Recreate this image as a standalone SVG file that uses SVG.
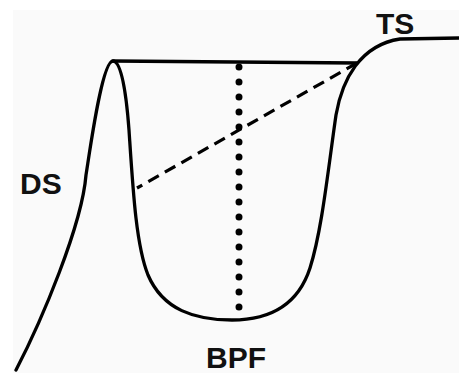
<svg xmlns="http://www.w3.org/2000/svg" width="459" height="373" viewBox="0 0 459 373">
<style>
.curve{fill:none;stroke:#000;stroke-width:3.3;stroke-linecap:round;stroke-linejoin:round}
.lbl{font-family:"Liberation Sans",Arial,sans-serif;font-weight:bold;font-size:30px;fill:#111}
</style>
<rect x="0" y="0" width="459" height="373" fill="#ffffff"/>
<rect x="13" y="10" width="446" height="363" fill="#fafafa"/>
<g id="profile">
<path class="curve" d="M16,370 C42,320 82,225 86,175 C90,150 102,61 113,61 C121,61 126,90 129,130 C133,190 136,245 148,275 C163,310 195,320 232,320 C270,320 298,305 310,268 C322,230 328,170 336,115 C342,80 360,45 400,39 L459,38"/>
</g>
<g id="connectors">
<line class="curve" x1="113" y1="61" x2="357" y2="63"/>
<line x1="357" y1="63" x2="137" y2="188" stroke="#000" stroke-width="3.2" stroke-dasharray="12 7"/>
<line x1="239" y1="67" x2="239" y2="308" stroke="#000" stroke-width="7" stroke-linecap="round" stroke-dasharray="0 15"/>
</g>
<g id="DS"><text class="lbl" x="20" y="194">DS</text></g>
<g id="TS"><text class="lbl" x="376" y="34">TS</text></g>
<g id="BPF"><text class="lbl" x="206" y="368">BPF</text></g>
</svg>
